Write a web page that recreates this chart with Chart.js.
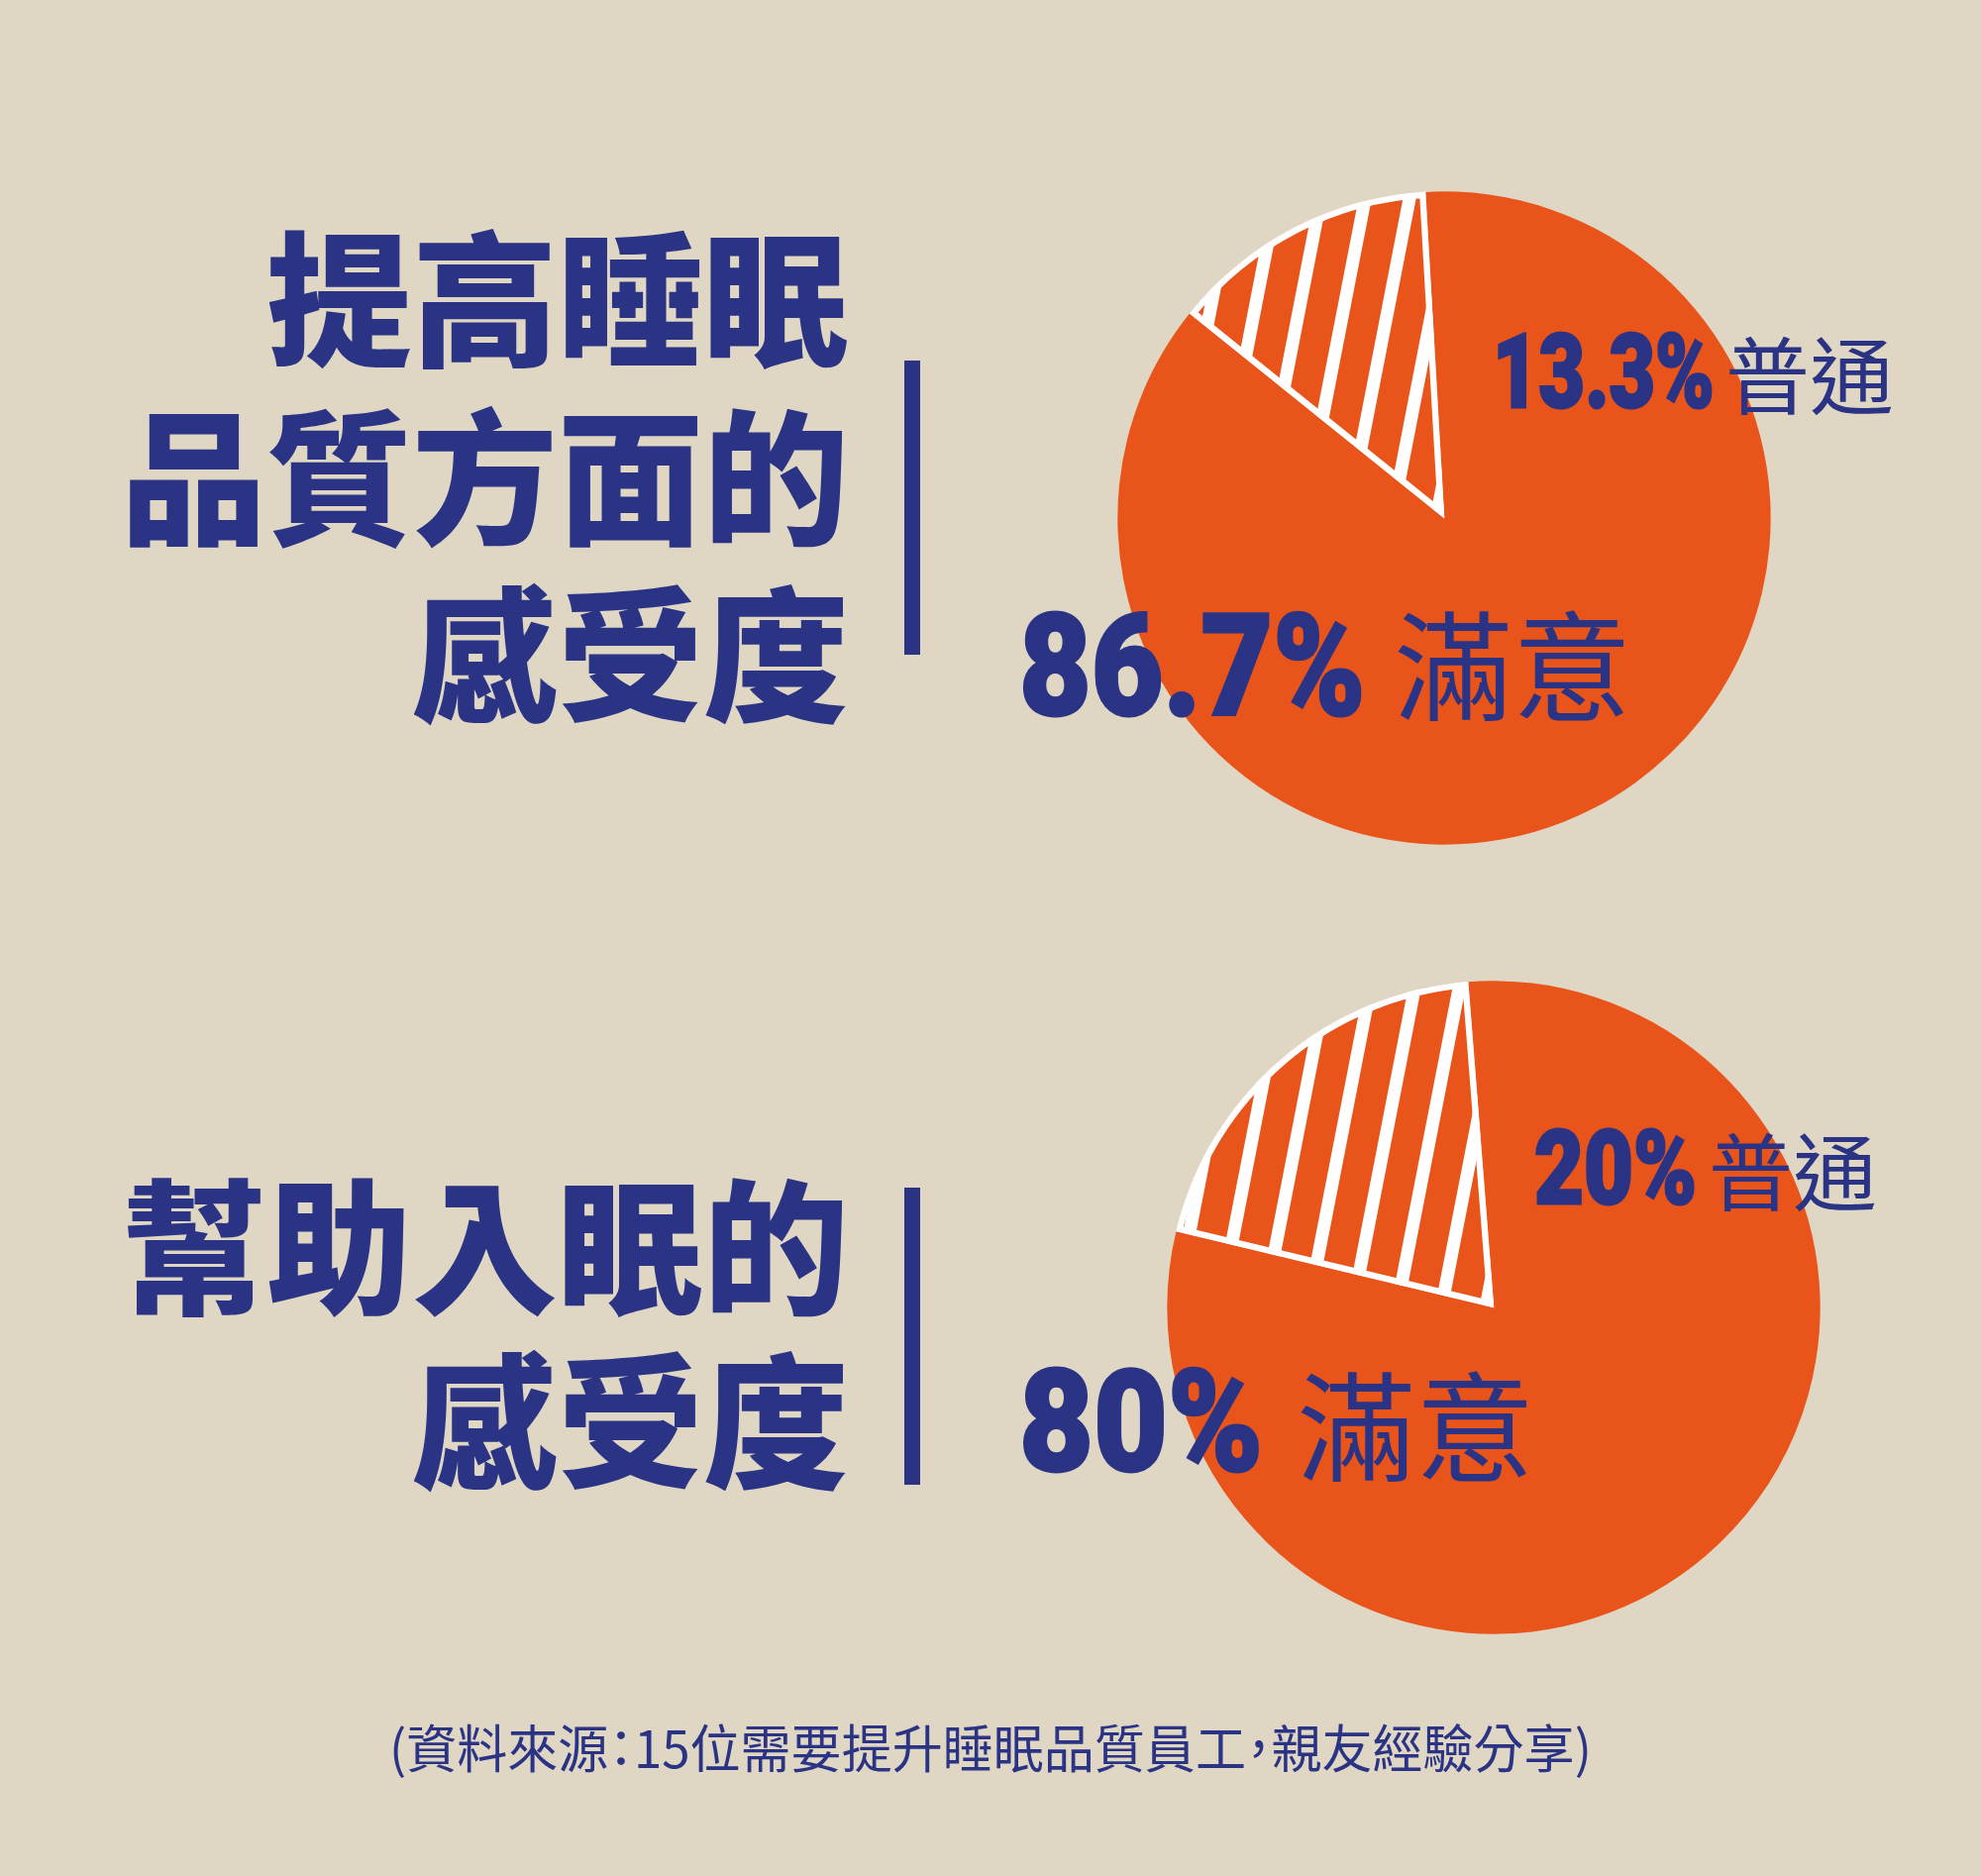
<!DOCTYPE html>
<html lang="zh-Hant">
<head>
<meta charset="utf-8">
<script src="https://cdn.jsdelivr.net/npm/chart.js@4.4.1/dist/chart.umd.min.js"></script>
<style>
  html, body { margin: 0; padding: 0; }
  body {
    width: 2000px; height: 1894px; position: relative; overflow: hidden;
    background: #dfd6c4; color: #2a3384;
    font-family: "Noto Sans CJK TC", "Noto Sans CJK SC", sans-serif;
  }
  .t { position: absolute; white-space: nowrap; line-height: 1; }
  .title { font-weight: 900; font-size: 147px; right: 1143px; text-align: right; }
  .num {
    font-family: Roboto, "DejaVu Sans", sans-serif; font-weight: 900;
    transform-origin: 0 0; -webkit-text-stroke: 3px #2a3384;
  }
  .word { font-weight: 400; }
  .bar { position: absolute; background: #2a3384; width: 16px; left: 913px; }
  .pie { position: absolute; width: 700px; height: 700px; }
  .note { font-size: 52px; font-feature-settings: "halt"; transform-origin: 0 0; }
</style>
</head>
<body>
<script>
// data
const categories = ['滿意', '普通'];
const sleepQuality = [86.7, 13.3];   // 提高睡眠品質方面的感受度
const fallAsleep = [80, 20];         // 幫助入眠的感受度
const titleQuality = ['提高睡眠', '品質方面的', '感受度'];
const titleAsleep = ['幫助入眠的', '感受度'];
const sourceNote = '(資料來源：15位需要提升睡眠品質員工，親友經驗分享)';

const ORANGE = '#e8541a';
const NAVY = '#2a3384';

function stripes() {
  const c = document.createElement('canvas');
  c.width = 44; c.height = 44;
  const g = c.getContext('2d');
  g.fillStyle = ORANGE;
  g.fillRect(0, 0, 44, 44);
  g.fillStyle = '#ffffff';
  g.fillRect(0, 0, 13, 44);
  const p = g.createPattern(c, 'repeat');
  p.setTransform(new DOMMatrix().rotate(11));
  return p;
}

function addText(cls, text, left, top, size) {
  const d = document.createElement('div');
  d.className = 't ' + cls;
  d.textContent = text;
  if (left !== null) d.style.left = left + 'px';
  d.style.top = top + 'px';
  if (size) d.style.fontSize = size + 'px';
  document.body.appendChild(d);
  return d;
}

// texts squeezed to a target width
const fitList = [];
function addFit(cls, text, left, top, size, width) {
  const d = addText(cls, text, left, top, size);
  fitList.push([d, width]);
}

function addPie(values, cx, cy, rotation) {
  const box = document.createElement('div');
  box.className = 'pie';
  box.style.left = (cx - 350) + 'px';
  box.style.top = (cy - 350) + 'px';
  const cv = document.createElement('canvas');
  cv.width = 700; cv.height = 700;
  box.appendChild(cv);
  document.body.appendChild(box);
  new Chart(cv.getContext('2d'), {
    type: 'pie',
    data: {
      labels: categories,
      datasets: [{
        data: values,
        backgroundColor: [ORANGE, stripes()],
        borderColor: '#ffffff',
        borderWidth: [0, 6],
        borderAlign: 'inner',
        borderJoinStyle: 'miter'
      }]
    },
    options: {
      responsive: false,
      animation: false,
      events: [],
      rotation: rotation,
      radius: 330,
      layout: { padding: 0 },
      plugins: { legend: { display: false }, tooltip: { enabled: false } }
    }
  });
}

// titles
[220, 400, 579].forEach((top, i) => addText('title', titleQuality[i], null, top));
[1177, 1353].forEach((top, i) => addText('title', titleAsleep[i], null, top));

const bar1 = document.createElement('div');
bar1.className = 'bar'; bar1.style.top = '364px'; bar1.style.height = '297px';
document.body.appendChild(bar1);
const bar2 = document.createElement('div');
bar2.className = 'bar'; bar2.style.top = '1199px'; bar2.style.height = '300px';
document.body.appendChild(bar2);

// pies: normal slice ends just left of the top
addPie(sleepQuality, 1458, 523, -3.3);
addPie(fallAsleep, 1508, 1320, -4.5);

// labels
addFit('num', sleepQuality[0] + '%', 1029, 603, 142, 349);
addText('word', categories[0], 1407, 607, 120);
addFit('num', sleepQuality[1] + '%', 1507, 324, 103, 224);
addText('word', categories[1], 1742, 332, 85);

addFit('num', fallAsleep[0] + '%', 1029, 1366, 142, 246);
addText('word', categories[0], 1309, 1375, 120);
addFit('num', fallAsleep[1] + '%', 1549, 1128, 103, 164);
addText('word', categories[1], 1725, 1136, 85);

addFit('note', sourceNote, 393, 1737, 52, 1214);

function fit() {
  fitList.forEach(([d, w]) => {
    d.style.transform = 'none';
    const s = w / d.offsetWidth;
    d.style.transform = 'scaleX(' + s + ')';
  });
}
fit();
document.fonts.ready.then(fit);
</script>
</body>
</html>
